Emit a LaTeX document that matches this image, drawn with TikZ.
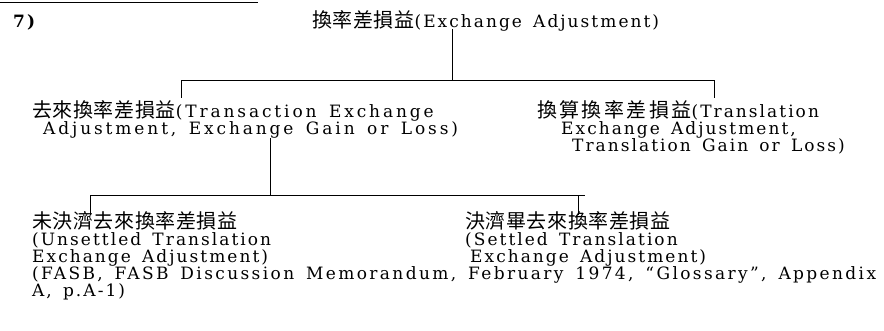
\documentclass[tikz,border=0pt]{standalone}
\usepackage{fontspec}
\setmainfont[LetterSpace=12,WordSpace=1.5]{DejaVu Serif}
\newfontfamily\cjk[LetterSpace=3]{Noto Sans CJK TC}
\newfontfamily\cjkwide[LetterSpace=12]{Noto Sans CJK TC}
\newcommand\C[1]{{\fontsize{20}{20}\selectfont\cjk #1}}
\newcommand\CW[1]{{\fontsize{20}{20}\selectfont\cjkwide #1}}
\begin{document}
\begin{tikzpicture}[x=1pt,y=-1pt,
  txt/.style={anchor=base west, inner sep=0pt, font=\fontsize{17}{17}\selectfont},
  wide/.style={font=\fontsize{17}{17}\selectfont\addfontfeature{LetterSpace=17}},
  fnote/.style={font=\fontsize{17}{17}\selectfont\addfontfeature{LetterSpace=14}},
  ln/.style={line width=0.8pt}]
\useasboundingbox (0,0) rectangle (884,330);
% top rule
\coordinate (r0) at (0,2);
\coordinate (r1) at (258,2);
\draw[ln] (r0) -- (r1);
\node[txt, font=\fontsize{17}{17}\selectfont\bfseries] (num) at (13,27) {7)};
\node[txt] (top) at (312,27) {\C{換率差損益}(Exchange Adjustment)};
% level 2
\node[txt, wide] (l2a) at (32,117) {\C{去來換率差損益}(Transaction Exchange};
\node[txt, wide] (l2b) at (43,134) {Adjustment, Exchange Gain or Loss)};
\node[txt] (r2a) at (537,117) {\CW{換算換率差損益}(Translation};
\node[txt] (r2b) at (561,134) {Exchange Adjustment,};
\node[txt] (r2c) at (572,151) {Translation Gain or Loss)};
% level 3
\node[txt] (l3a) at (32,228) {\C{未決濟去來換率差損益}};
\node[txt] (l3b) at (32,245) {(Unsettled Translation};
\node[txt] (l3c) at (32,262) {Exchange Adjustment)};
\node[txt] (r3a) at (465,228) {\C{決濟畢去來換率差損益}};
\node[txt] (r3b) at (465,245) {(Settled Translation};
\node[txt] (r3c) at (470,262) {Exchange Adjustment)};
\node[txt, fnote] (fn1) at (32,279) {\makebox[844pt][s]{(FASB, FASB Discussion Memorandum, February 1974, “Glossary”, Appendix}};
\node[txt] (fn2) at (32,296) {A, p.A-1)};
% connectors level 1
\coordinate (j1) at (452,80);
\coordinate (h1a) at (181,80);
\coordinate (h1b) at (714,80);
\draw[ln] (top.south -| j1) ++(0,-2) -- (j1);
\draw[ln] (h1a) -- (h1b);
\coordinate (t1a) at (181,98);
\coordinate (t1b) at (714,98);
\draw[ln] (h1a) -- (t1a);
\draw[ln] (h1b) -- (t1b);
% connectors level 2
\coordinate (j2) at (270,195);
\coordinate (h2a) at (90,195);
\coordinate (h2b) at (585,195);
\coordinate (s2) at (270,138);
\draw[ln] (s2) -- (j2);
\draw[ln] (h2a) -- (h2b);
\coordinate (t2a) at (90,215);
\coordinate (t2b) at (578,215);
\coordinate (u2b) at (578,195);
\draw[ln] (h2a) -- (t2a);
\draw[ln] (u2b) -- (t2b);
\end{tikzpicture}
\end{document}
